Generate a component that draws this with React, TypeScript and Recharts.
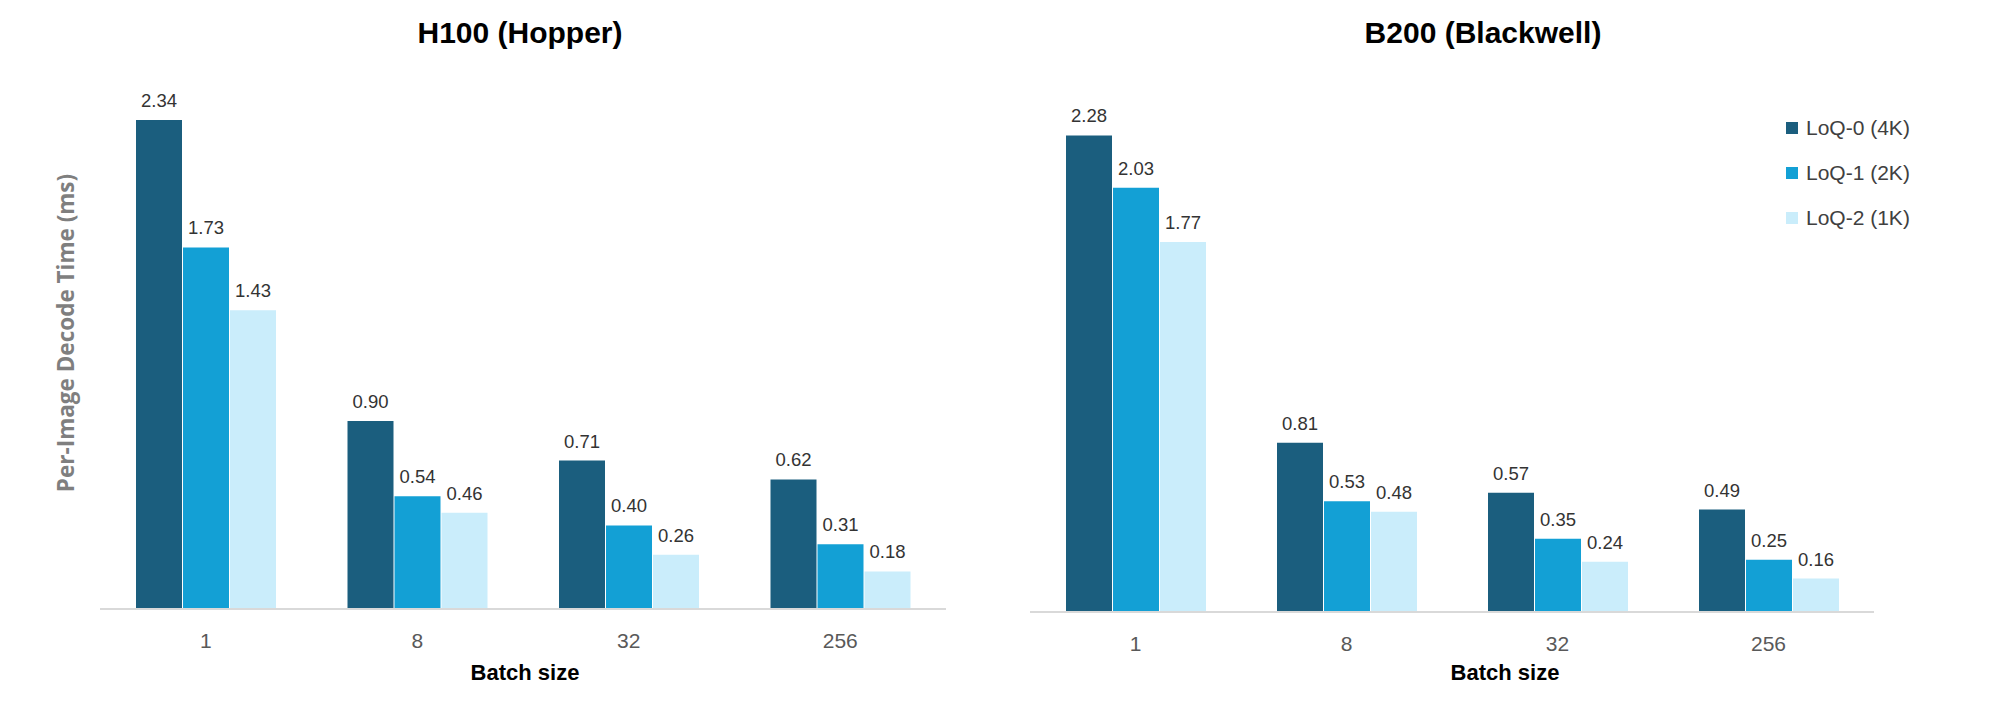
import React from 'react'
import { BarChart, Bar, XAxis, YAxis, LabelList } from 'recharts'

const categories = ['1', '8', '32', '256']
const seriesNames = ['LoQ-0 (4K)', 'LoQ-1 (2K)', 'LoQ-2 (1K)']
const colors = ['#1b5e7e', '#13a0d5', '#caedfb']

const h100Loq0 = [2.34, 0.9, 0.71, 0.62]
const h100Loq1 = [1.73, 0.54, 0.4, 0.31]
const h100Loq2 = [1.43, 0.46, 0.26, 0.18]

const b200Loq0 = [2.28, 0.81, 0.57, 0.49]
const b200Loq1 = [2.03, 0.53, 0.35, 0.25]
const b200Loq2 = [1.77, 0.48, 0.24, 0.16]

const build = (a: number[], b: number[], c: number[]) =>
  categories.map((batch, i) => ({ batch, loq0: a[i], loq1: b[i], loq2: c[i] }))

const h100Data = build(h100Loq0, h100Loq1, h100Loq2)
const b200Data = build(b200Loq0, b200Loq1, b200Loq2)

const narrow = "'Liberation Sans Narrow', 'Liberation Sans', Arial, sans-serif"
const plain = "'Liberation Sans', Arial, sans-serif"

function Panel({ data, margin, width }: {
  data: { batch: string; loq0: number; loq1: number; loq2: number }[]
  margin: { top: number; right: number; bottom: number; left: number }
  width: number
}) {
  return (
    <BarChart width={width} height={712} data={data} margin={margin} barGap={1} barSize={46}>
      <XAxis
        dataKey="batch"
        height={60}
        axisLine={{ stroke: '#d9d9d9', strokeWidth: 2 }}
        tickLine={false}
        tickMargin={18}
        tick={{ fontSize: 21, fill: '#595959', fontFamily: narrow }}
      />
      <YAxis hide domain={[0, 2.5]} />
      {['loq0', 'loq1', 'loq2'].map((key, i) => (
        <Bar key={key} dataKey={key} fill={colors[i]} isAnimationActive={false}>
          <LabelList
            dataKey={key}
            position="top"
            offset={13}
            formatter={(v: number) => v.toFixed(2)}
            style={{ fontSize: 18.5, fill: '#333333', fontFamily: plain }}
          />
        </Bar>
      ))}
    </BarChart>
  )
}

const textBase: React.CSSProperties = { position: 'absolute', whiteSpace: 'nowrap', lineHeight: 1 }

export default function App() {
  return (
    <div style={{ position: 'absolute', left: 0, top: 0, width: 1999, height: 712, background: '#fff', overflow: 'hidden' }}>
      <div style={{ position: 'absolute', left: 0, top: 0 }}>
        <Panel data={h100Data} width={1000} margin={{ top: 86.5, right: 54, bottom: 43, left: 100 }} />
      </div>
      <div style={{ position: 'absolute', left: 1000, top: 0 }}>
        <Panel data={b200Data} width={999} margin={{ top: 89.5, right: 125, bottom: 40, left: 30 }} />
      </div>

      <div style={{ ...textBase, left: 520, top: 33, transform: 'translate(-50%, -50%)', fontFamily: narrow, fontWeight: 700, fontSize: 30, color: '#000' }}>
        H100 (Hopper)
      </div>
      <div style={{ ...textBase, left: 1483, top: 33, transform: 'translate(-50%, -50%)', fontFamily: narrow, fontWeight: 700, fontSize: 30, color: '#000' }}>
        B200 (Blackwell)
      </div>

      <div style={{ ...textBase, left: 525, top: 673, transform: 'translate(-50%, -50%)', fontFamily: narrow, fontWeight: 700, fontSize: 22, color: '#000' }}>
        Batch size
      </div>
      <div style={{ ...textBase, left: 1505, top: 673, transform: 'translate(-50%, -50%)', fontFamily: narrow, fontWeight: 700, fontSize: 22, color: '#000' }}>
        Batch size
      </div>

      <div style={{ ...textBase, left: 66, top: 333, transform: 'translate(-50%, -50%) rotate(-90deg)', fontFamily: "'Open Sans', sans-serif", fontWeight: 700, fontSize: 22.5, color: '#7f7f7f' }}>
        Per-Image Decode Time (ms)
      </div>

      <div style={{ position: 'absolute', left: 1786, top: 116 }}>
        {seriesNames.map((name, i) => (
          <div key={name} style={{ display: 'flex', alignItems: 'center', height: 24, marginBottom: 21 }}>
            <span style={{ width: 12, height: 12, background: colors[i], display: 'inline-block', marginRight: 8 }} />
            <span style={{ fontFamily: narrow, fontSize: 21, color: '#404040' }}>{name}</span>
          </div>
        ))}
      </div>
    </div>
  )
}
